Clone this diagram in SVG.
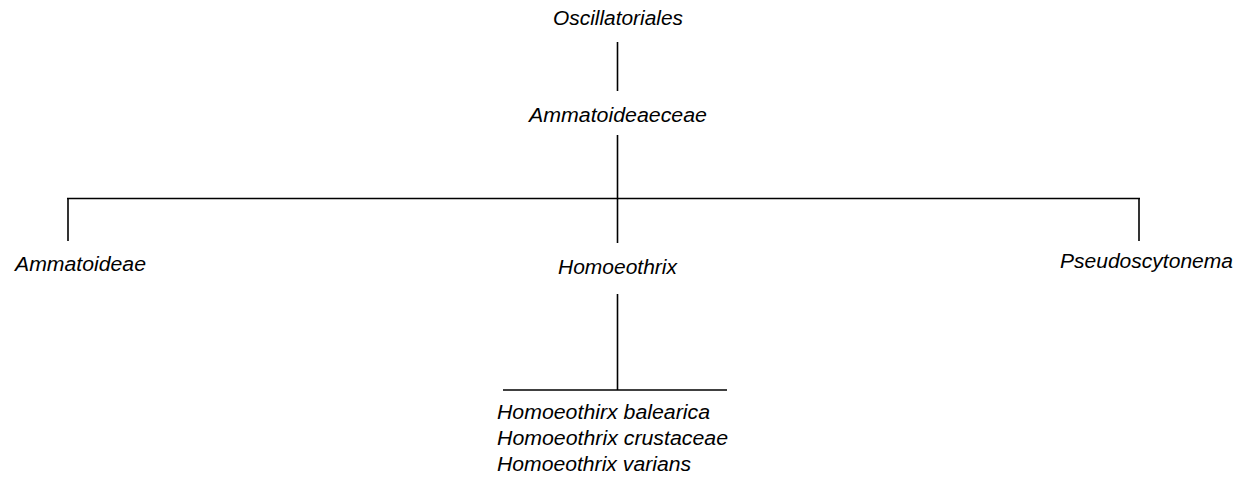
<svg xmlns="http://www.w3.org/2000/svg" width="1243" height="485" viewBox="0 0 1243 485">
<style>
text{font-family:"Liberation Sans",Arial,sans-serif;font-style:italic;font-size:19.5px;fill:#000}
line{stroke:#000;stroke-width:1.6}
</style>
<rect width="1243" height="485" fill="#fff"/>
<g id="connectors">
<line x1="617.5" y1="42" x2="617.5" y2="91"/>
<line x1="617.5" y1="135" x2="617.5" y2="198.5"/>
<line x1="67" y1="198.5" x2="1140" y2="198.5"/>
<line x1="68" y1="198.5" x2="68" y2="241"/>
<line x1="617.5" y1="198.5" x2="617.5" y2="243"/>
<line x1="1139" y1="198.5" x2="1139" y2="241"/>
<line x1="617.5" y1="294" x2="617.5" y2="390"/>
<line x1="503" y1="390" x2="727" y2="390"/>
</g>
<g id="oscillatoriales"><text x="553" y="25" textLength="130" lengthAdjust="spacingAndGlyphs">Oscillatoriales</text></g>
<g id="ammatoideaeceae"><text x="529" y="122" textLength="178" lengthAdjust="spacingAndGlyphs">Ammatoideaeceae</text></g>
<g id="ammatoideae"><text x="15" y="271" textLength="131" lengthAdjust="spacingAndGlyphs">Ammatoideae</text></g>
<g id="homoeothrix"><text x="558" y="274" textLength="119" lengthAdjust="spacingAndGlyphs">Homoeothrix</text></g>
<g id="pseudoscytonema"><text x="1060" y="268" textLength="173" lengthAdjust="spacingAndGlyphs">Pseudoscytonema</text></g>
<g id="species">
<text x="497" y="419" textLength="213" lengthAdjust="spacingAndGlyphs">Homoeothirx balearica</text>
<text x="497" y="445" textLength="231" lengthAdjust="spacingAndGlyphs">Homoeothrix crustaceae</text>
<text x="497" y="471" textLength="194" lengthAdjust="spacingAndGlyphs">Homoeothrix varians</text>
</g>
</svg>
